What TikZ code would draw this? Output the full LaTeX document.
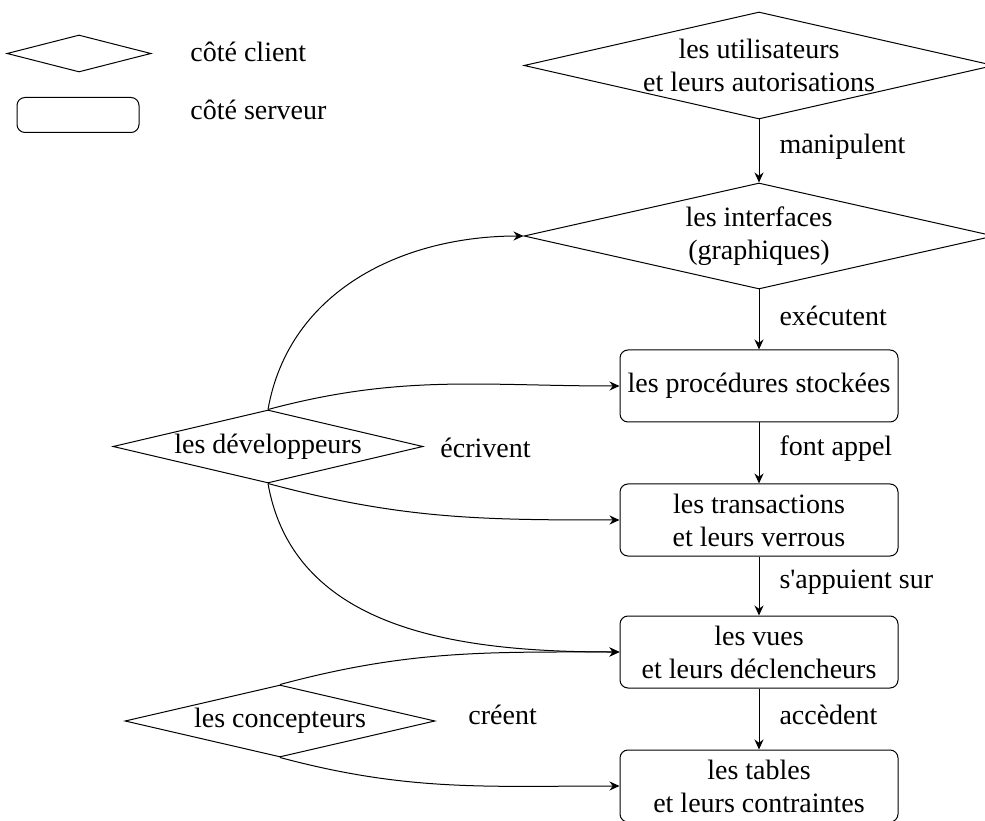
\documentclass[tikz,border=0pt]{standalone}
\usepackage{fontspec}
\setmainfont{Liberation Serif}
\usetikzlibrary{shapes.geometric,arrows.meta}

\begin{document}
\begin{tikzpicture}[x=0.5pt, y=0.5pt,
  font=\fontsize{14}{16.5}\selectfont,
  client/.style={draw, diamond, aspect=4.3, line width=0.5pt, inner sep=-3pt, align=center},
  server/.style={draw, rectangle, rounded corners=4pt, line width=0.5pt,
    minimum width=139pt, minimum height=36pt, align=center},
  flow/.style={-{Stealth[length=5pt,width=4.5pt]}, line width=0.5pt},
  verb/.style={anchor=west, inner sep=0pt, xshift=10pt, yshift=2pt}]
\useasboundingbox (0,0) rectangle (985,820);

% Legend
\node[client, minimum width=72pt, minimum height=18.5pt] (legclient) at (79,766.5) {};
\node[anchor=west, inner sep=0pt] (legclienttxt) at (190,768) {côté client};
\node[server, minimum width=61pt, minimum height=17.5pt] (legserver) at (78,705) {};
\node[anchor=west, inner sep=0pt] (legservertxt) at (190,710) {côté serveur};

% Main chain
\node[client, minimum width=235pt, minimum height=53.5pt] (users) at (759,754.5)
  {les utilisateurs\\et leurs autorisations};
\node[client, minimum width=235pt, minimum height=53pt] (ifaces) at (759,584)
  {les interfaces\\(graphiques)};
\node[server] (proc) at (759,434) {les procédures stockées};
\node[server] (trans) at (759,300) {les transactions\\et leurs verrous};
\node[server] (vues) at (759,168) {les vues\\et leurs déclencheurs};
\node[server] (tables) at (759,34) {les tables\\et leurs contraintes};

\draw[flow] (users) -- node[verb] {manipulent} (ifaces);
\draw[flow] (ifaces) -- node[verb] {exécutent} (proc);
\foreach \a/\b/\t in {proc/trans/font appel, trans/vues/s\textquotesingle appuient sur, vues/tables/accèdent} {
    \draw[flow] (\a) -- node[verb] {\t} (\b);
}

% Actors on the left
\node[client, minimum width=155pt, minimum height=36.5pt] (dev) at (268,373.5) {les développeurs};
\node[anchor=west, inner sep=0pt] (ecrivent) at (440,372) {écrivent};
\node[client, minimum width=155pt, minimum height=36pt] (conc) at (280,99) {les concepteurs};
\node[anchor=west, inner sep=0pt] (creent) at (468,105) {créent};

\draw[flow] (dev.north) to[out=80, in=180] (ifaces.west);
\draw[flow] (dev.north) to[out=15, in=180] (proc.west);
\draw[flow] (dev.south) to[out=-15, in=180] (trans.west);
\draw[flow] (dev.south) to[out=-80, in=180] (vues.west);
\draw[flow] (conc.north) to[out=15, in=180] (vues.west);
\draw[flow] (conc.south) to[out=-15, in=180] (tables.west);
\end{tikzpicture}
\end{document}
